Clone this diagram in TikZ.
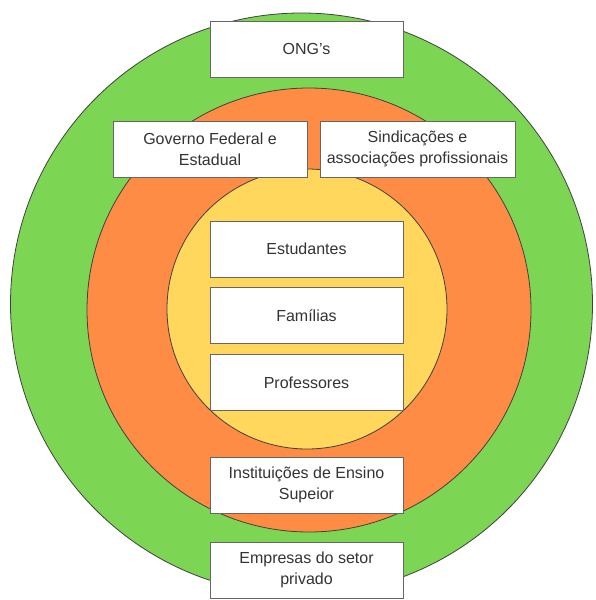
\documentclass[tikz,border=0pt]{standalone}
\usepackage{fontspec}
\setmainfont{Liberation Sans}
\usetikzlibrary{positioning}
\definecolor{ringgreen}{RGB}{124,214,84}
\definecolor{ringorange}{RGB}{255,140,68}
\definecolor{ringyellow}{RGB}{255,215,92}
\definecolor{boxtext}{RGB}{51,51,51}
\tikzset{ring/.style={draw=black!75,line width=0.8pt},
    actor/.style={draw=black!60,fill=white,line width=0.7pt,
        minimum width=193pt,minimum height=56pt,inner sep=0pt,
        align=center,text=boxtext,font=\fontsize{16}{21}\selectfont},
    }

\begin{document}
\begin{tikzpicture}[x=1pt,y=-1pt]
	\useasboundingbox (0,0) rectangle (595,600);
	% rings
	\fill[white] (0,0) rectangle (595,600);
	\filldraw[ring,fill=ringgreen] (301.5,304) circle[radius=291pt];
	\filldraw[ring,fill=ringorange] (309,310) circle[radius=222pt];
	\filldraw[ring,fill=ringyellow] (307,309) circle[radius=140pt];
	% outer ring
	\node[actor] (ong) at (306.5,49) {ONG's};
	\node[actor] (empresas) at (306.5,570) {Empresas do setor\\privado};
	% middle ring
	\node[actor,minimum width=194pt] (governo) at (210,149) {Governo Federal e\\Estadual};
	\node[actor,minimum width=195pt] (sindic) at (417.5,149) {Sindicações e\\associações profissionais};
	\node[actor] (instit) at (306.5,485) {Instituições de Ensino\\Supeior};
	% inner ring
	\node[actor] (estud) at (306.5,249) {Estudantes};
	\node[actor,below=10pt of estud] (famil) {Famílias};
	\node[actor,below=10pt of famil] (profes) {Professores};
\end{tikzpicture}
\end{document}
